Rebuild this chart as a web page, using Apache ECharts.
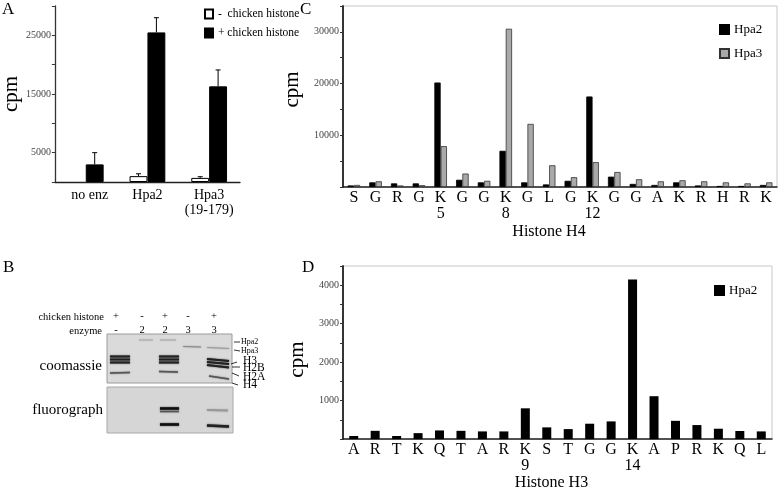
<!DOCTYPE html>
<html>
<head>
<meta charset="utf-8">
<script src="https://cdn.jsdelivr.net/npm/echarts@6/dist/echarts.min.js"></script>
<style>html,body{margin:0;padding:0;background:#fff;}#main{width:778px;height:492px;}</style>
</head>
<body>
<div id="main"></div>
<script>
// ---- Panel A data ----
const catsA = ['no enz', 'Hpa2', 'Hpa3\n(19-179)'];
const minusHistone = [null, 1000, 700];
const plusHistone = [3000, 25500, 16300];
const minusErrTop = [null, 1400, 900];
const plusErrTop = [5000, 28000, 19100];
const ticksA = [5000, 15000, 25000];

// ---- Panel C data (Histone H4) ----
const catsH4 = ['S','G','R','G','K','G','G','K','G','L','G','K','G','G','A','K','R','H','R','K'];
const subH4  = ['','','','','5','','','8','','','','12','','','','','','','',''];
const h4Hpa2 = [300, 900, 700, 700, 20200, 1400, 900, 7000, 900, 500, 1200, 17500, 2000, 600, 400, 900, 300, 200, 200, 400];
const h4Hpa3 = [400, 1100, 300, 350, 7900, 2600, 1200, 30600, 12200, 4200, 1900, 4800, 2900, 1500, 1100, 1300, 1100, 900, 700, 900];
const ticksC = [10000, 20000, 30000];

// ---- Panel D data (Histone H3) ----
const catsH3 = ['A','R','T','K','Q','T','A','R','K','S','T','G','G','K','A','P','R','K','Q','L'];
const subH3  = ['','','','','','','','','9','','','','','14','','','','','',''];
const h3Hpa2 = [80, 215, 80, 155, 225, 215, 200, 200, 800, 305, 260, 400, 460, 4150, 1115, 475, 365, 270, 210, 200];
const ticksD = [1000, 2000, 3000, 4000];

// ---- Panel B gel labels ----
const laneHistone = ['+', '-', '+', '-', '+'];
const laneEnzyme = ['-', '2', '2', '3', '3'];

const SERIF = '"Liberation Serif", "Times New Roman", serif';

const errData = [];
catsA.forEach((c, i) => {
  if (minusHistone[i] != null) errData.push([i, minusHistone[i], minusErrTop[i], -1]);
  if (plusHistone[i] != null) errData.push([i, plusHistone[i], plusErrTop[i], 1]);
});

// gel drawing (decorative image of panel B)
const laneX = [120, 146, 169, 192, 218];
const bands = [
  [110,356.5,130,356.5,2,'#222'],[110,359.5,130,359.5,2,'#222'],[110,362.5,130,362.5,2,'#222'],[110,373,130,372.5,1.5,'#555'],
  [139,340,153,340,1,'#aaa'],
  [160,340,176,340,1,'#aaa'],[159,356.5,179,356.5,2,'#222'],[159,359.5,179,359.5,2,'#222'],[159,362.5,179,362.5,2,'#222'],[159,371.5,178,372,1.5,'#555'],
  [183,346.5,201,347,1,'#888'],
  [207,347.5,229,348.5,1,'#999'],[207,359,229,361,2,'#222'],[207,362,229,364,2,'#222'],[207,365,229,367.5,2,'#222'],[209,376,229,379,1.5,'#555'],
  [160,408.5,179,408.5,2.5,'#111'],[160,411.5,179,411.5,1.5,'#555'],[160,424.5,179,424.5,2.5,'#111'],
  [207,410,228,410.5,2,'#999'],[207,425.5,229,426.5,2.5,'#222']
];
const bandLabels = [
  ['Hpa2', 241, 342, 8, [234,342,240,342]],
  ['Hpa3', 241, 351, 8, [234,350,240,351]],
  ['H3', 243, 361, 11.5, [231,364,237,362]],
  ['H2B', 243, 367.5, 11.5, [232,367,240,367]],
  ['H2A', 243, 376.5, 11.5, [232,373,239,376]],
  ['H4', 243, 385, 11.5, [232,383,238,385]]
];

const graphics = [
  {type:'text', left:2, top:1, style:{text:'A', font:'17px ' + SERIF, fill:'#000'}},
  {type:'text', left:3, top:259, style:{text:'B', font:'17px ' + SERIF, fill:'#000'}},
  {type:'text', left:300, top:1, style:{text:'C', font:'17px ' + SERIF, fill:'#000'}},
  {type:'text', left:302, top:259, style:{text:'D', font:'17px ' + SERIF, fill:'#000'}},
  {type:'text', x:104, y:317, style:{text:'chicken histone', font:'10.5px ' + SERIF, fill:'#000', align:'right', verticalAlign:'middle'}},
  {type:'text', x:102, y:331, style:{text:'enzyme', font:'10.5px ' + SERIF, fill:'#000', align:'right', verticalAlign:'middle'}},
  {type:'text', x:102, y:366, style:{text:'coomassie', font:'15px ' + SERIF, fill:'#000', align:'right', verticalAlign:'middle'}},
  {type:'text', x:103, y:410, style:{text:'fluorograph', font:'15px ' + SERIF, fill:'#000', align:'right', verticalAlign:'middle'}},
  {type:'rect', shape:{x:107, y:334, width:125, height:49}, style:{fill:'#dadada', stroke:'#9a9a9a', lineWidth:1}},
  {type:'rect', shape:{x:107, y:387, width:126, height:46}, style:{fill:'#d6d6d6', stroke:'#a8a8a8', lineWidth:1}}
];
laneX.forEach((x, i) => {
  graphics.push({type:'text', x:x - 4, y:316, style:{text:laneHistone[i], font:'10.5px ' + SERIF, fill:'#000', align:'center', verticalAlign:'middle'}});
  graphics.push({type:'text', x:x - 4, y:330, style:{text:laneEnzyme[i], font:'10.5px ' + SERIF, fill:'#000', align:'center', verticalAlign:'middle'}});
});
bands.forEach(b => {
  graphics.push({type:'line', shape:{x1:b[0], y1:b[1], x2:b[2], y2:b[3]}, style:{stroke:b[5], lineWidth:b[4], shadowBlur:1.5, shadowColor:b[5]}});
});
bandLabels.forEach(l => {
  graphics.push({type:'line', shape:{x1:l[4][0], y1:l[4][1], x2:l[4][2], y2:l[4][3]}, style:{stroke:'#000', lineWidth:0.8}});
  graphics.push({type:'text', x:l[1], y:l[2], style:{text:l[0], font:l[3] + 'px ' + SERIF, fill:'#000', verticalAlign:'middle'}});
});

const yTickStyle = {fontSize:10, fontFamily:SERIF, color:'#444', margin:4};

const option = {
  animation: false,
  backgroundColor: '#fff',
  textStyle: {fontFamily: SERIF},
  grid: [
    {left:43, top:6, width:197, height:176},
    {left:343, top:6, width:434, height:181, show:true, borderColor:'#c8c8c8', borderWidth:1},
    {left:343, top:266, width:429, height:174, show:true, borderColor:'#c8c8c8', borderWidth:1}
  ],
  legend: [
    {orient:'vertical', left:199, top:3, itemWidth:8, itemHeight:9, itemGap:7, icon:'rect',
     data:['-  chicken histone', '+ chicken histone'], textStyle:{fontSize:11.5, fontFamily:SERIF, color:'#000'}, selectedMode:false},
    {orient:'vertical', left:714, top:18, itemWidth:9, itemHeight:9, itemGap:11, icon:'rect',
     data:['Hpa2', 'Hpa3'], textStyle:{fontSize:13, fontFamily:SERIF, color:'#000'}, selectedMode:false},
    {orient:'vertical', left:709, top:279, itemWidth:9, itemHeight:9, icon:'rect',
     data:['Hpa2'], textStyle:{fontSize:13, fontFamily:SERIF, color:'#000'}, selectedMode:false}
  ],
  xAxis: [
    {type:'category', gridIndex:0, data:catsA,
     axisLine:{lineStyle:{color:'#222', width:1.3}},
     axisTick:{length:3, lineStyle:{color:'#222'}},
     axisLabel:{interval:0, fontSize:14, fontFamily:SERIF, color:'#000', margin:6, lineHeight:15,
       formatter:(v, i) => i === 0 ? '{s|' + v + '}' : v,
       rich:{s:{fontSize:14, fontFamily:SERIF, color:'#000', padding:[0,0,0,8]}}}},
    {type:'category', gridIndex:1, data:catsH4, name:'Histone H4', nameLocation:'middle', nameGap:37,
     nameTextStyle:{fontSize:16, fontFamily:SERIF, color:'#000', padding:[0,22,0,0]},
     axisLine:{lineStyle:{color:'#222', width:1.5}},
     axisTick:{length:3, lineStyle:{color:'#222'}},
     axisLabel:{interval:0, fontSize:16, fontFamily:SERIF, color:'#000', margin:3, lineHeight:16,
       formatter:(v, i) => subH4[i] ? v + '\n' + subH4[i] : v}},
    {type:'category', gridIndex:2, data:catsH3, name:'Histone H3', nameLocation:'middle', nameGap:35,
     nameTextStyle:{fontSize:16, fontFamily:SERIF, color:'#000', padding:[0,12,0,0]},
     axisLine:{lineStyle:{color:'#222', width:1.5}},
     axisTick:{length:3, lineStyle:{color:'#222'}},
     axisLabel:{interval:0, fontSize:16, fontFamily:SERIF, color:'#000', margin:3, lineHeight:16,
       formatter:(v, i) => subH3[i] ? v + '\n' + subH3[i] : v}}
  ],
  yAxis: [
    {type:'value', gridIndex:0, min:0, max:30000, interval:5000, name:'cpm', nameLocation:'middle', nameGap:17,
     nameTextStyle:{fontSize:21, fontFamily:SERIF, color:'#000'},
     splitLine:{show:false},
     axisLine:{show:true, lineStyle:{color:'#333', width:1.3}},
     axisTick:{show:true, length:3, lineStyle:{color:'#333'}},
     axisLabel:Object.assign({}, yTickStyle, {formatter:v => ticksA.indexOf(v) >= 0 ? String(v) : ''})},
    {type:'value', gridIndex:1, min:0, max:35000, interval:5000, name:'cpm', nameLocation:'middle', nameGap:20,
     nameTextStyle:{fontSize:21, fontFamily:SERIF, color:'#000', padding:[0,0,0,14]},
     splitLine:{show:false},
     axisLine:{show:true, lineStyle:{color:'#222', width:1.8}},
     axisTick:{show:true, length:3, lineStyle:{color:'#333'}},
     axisLabel:Object.assign({}, yTickStyle, {formatter:v => ticksC.indexOf(v) >= 0 ? String(v) : ''})},
    {type:'value', gridIndex:2, min:0, max:4500, interval:500, name:'cpm', nameLocation:'middle', nameGap:20,
     nameTextStyle:{fontSize:21, fontFamily:SERIF, color:'#000', padding:[0,14,0,0]},
     splitLine:{show:false},
     axisLine:{show:true, lineStyle:{color:'#222', width:1.8}},
     axisTick:{show:true, length:3, lineStyle:{color:'#333'}},
     axisLabel:Object.assign({}, yTickStyle, {formatter:v => ticksD.indexOf(v) >= 0 ? String(v) : ''})}
  ],
  series: [
    {name:'-  chicken histone', type:'bar', xAxisIndex:0, yAxisIndex:0, data:minusHistone,
     barGap:'0%', barCategoryGap:'42%',
     itemStyle:{color:'#fff', borderColor:'#000', borderWidth:1}},
    {name:'+ chicken histone', type:'bar', xAxisIndex:0, yAxisIndex:0, data:plusHistone,
     barGap:'0%', barCategoryGap:'42%',
     itemStyle:{color:'#000', borderColor:'#000', borderWidth:1}},
    {name:'errA', type:'custom', xAxisIndex:0, yAxisIndex:0, data:errData, z:5,
     encode:{x:0, y:[1,2]},
     renderItem:(params, api) => {
       const cat = api.value(0);
       const side = api.value(3);
       const band = api.size([1, 0])[0];
       const p1 = api.coord([cat, api.value(1)]);
       const p2 = api.coord([cat, api.value(2)]);
       const x = p1[0] + side * band * 0.145;
       return {type:'group', children:[
         {type:'line', shape:{x1:x, y1:p1[1], x2:x, y2:p2[1]}, style:{stroke:'#000', lineWidth:1}},
         {type:'line', shape:{x1:x - 2.5, y1:p2[1], x2:x + 2.5, y2:p2[1]}, style:{stroke:'#000', lineWidth:1}}
       ]};
     }},
    {name:'Hpa2', type:'bar', xAxisIndex:1, yAxisIndex:1, data:h4Hpa2,
     barGap:'0%', barCategoryGap:'42%',
     itemStyle:{color:'#000', borderColor:'#000', borderWidth:0.8}},
    {name:'Hpa3', type:'bar', xAxisIndex:1, yAxisIndex:1, data:h4Hpa3,
     barGap:'0%', barCategoryGap:'42%',
     itemStyle:{color:'#a9a9a9', borderColor:'#333', borderWidth:0.8}},
    {name:'Hpa2', type:'bar', xAxisIndex:2, yAxisIndex:2, data:h3Hpa2,
     barWidth:9,
     itemStyle:{color:'#000'}}
  ],
  graphic: graphics
};

const chart = echarts.init(document.getElementById('main'));
chart.setOption(option);
</script>
</body>
</html>
